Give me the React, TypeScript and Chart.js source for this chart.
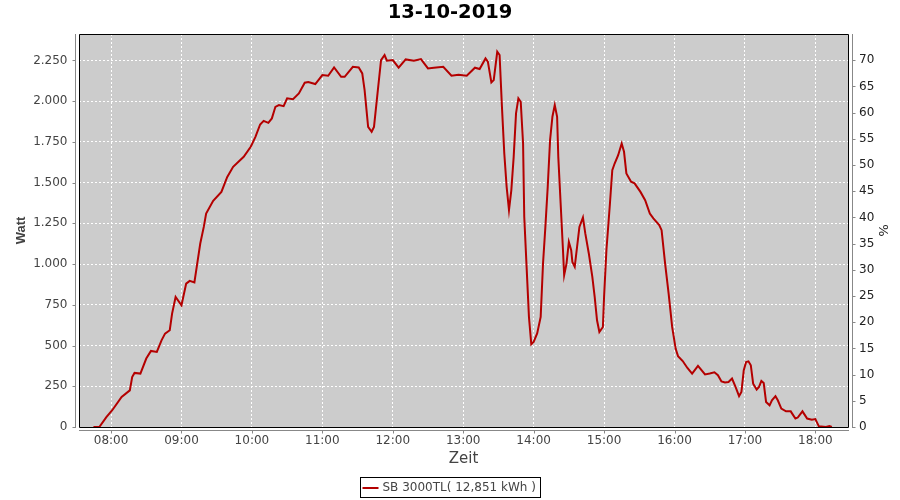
import React, { useEffect, useRef } from 'react';
import { Chart, registerables } from 'chart.js';

Chart.register(...registerables);

const TITLE = '13-10-2019';
const SERIES_LABEL = 'SB 3000TL( 12,851 kWh )';
const X_TITLE = 'Zeit';
const Y_TITLE = 'Watt';
const Y2_TITLE = '%';

// time in minutes after midnight
const timeMinutes = [
  465, 470, 476, 481, 489, 496, 498, 500, 505, 510, 514, 519, 523, 526, 530, 532, 535, 540, 544, 547,
  551, 553, 556, 559, 561, 567, 574, 579, 584, 593, 599, 603, 607, 610, 614, 617, 620, 623, 627, 630,
  635, 640, 645, 648, 654, 660, 665, 670, 676, 679, 686, 691, 694, 696, 699, 702, 704, 707, 710, 713,
  715, 720, 725, 731, 738, 744, 750, 755, 763, 770, 776, 783, 790, 794, 799, 801, 804, 806, 809, 811,
  813, 815, 817, 819, 821, 823, 825, 827, 829, 831, 832, 834, 836, 838, 840, 843, 846, 848, 850, 852,
  854, 856, 858, 860, 861, 863, 865, 866, 868, 870, 872, 873, 875, 877, 879, 882, 884, 887, 890, 892,
  894, 896, 899, 900, 902, 905, 907, 909, 912, 915, 917, 919, 923, 926, 931, 935, 939, 942, 947, 949,
  952, 955, 958, 961, 963, 967, 971, 975, 980, 986, 990, 994, 997, 1000, 1003, 1006, 1009, 1012, 1015, 1017,
  1019, 1021, 1023, 1025, 1027, 1030, 1032, 1034, 1036, 1038, 1041, 1043, 1046, 1048, 1051, 1055, 1059, 1063, 1065, 1069,
  1073, 1077, 1080, 1083, 1089, 1092, 1094,
];

const watts = [
  0, 0, 61, 103, 184, 225, 307, 332, 328, 420, 467, 461, 532, 573, 594, 696, 798, 747, 880, 897,
  887, 983, 1126, 1228, 1310, 1388, 1443, 1535, 1597, 1658, 1720, 1781, 1857, 1879, 1867, 1894, 1965, 1976, 1969, 2017,
  2012, 2047, 2113, 2117, 2105, 2160, 2156, 2207, 2149, 2149, 2211, 2207, 2170, 2068, 1842, 1812, 1842, 2047, 2252, 2283,
  2248, 2252, 2205, 2256, 2248, 2258, 2201, 2205, 2211, 2156, 2162, 2156, 2205, 2197, 2262, 2242, 2115, 2129, 2303, 2283,
  1965, 1679, 1474, 1331, 1454, 1658, 1925, 2017, 1996, 1740, 1290, 983, 676, 508, 522, 574, 676, 1003, 1228, 1474,
  1761, 1904, 1976, 1904, 1658, 1372, 1085, 932, 1003, 1136, 1085, 1013, 983, 1105, 1228, 1286, 1188, 1065, 921, 798,
  655, 583, 614, 798, 1085, 1372, 1576, 1617, 1668, 1740, 1689, 1556, 1505, 1495, 1443, 1392, 1310, 1280, 1239, 1208,
  1003, 819, 614, 480, 435, 405, 362, 328, 375, 323, 328, 336, 318, 280, 273, 276, 297, 246, 189, 215,
  348, 399, 403, 379, 266, 230, 246, 283, 270, 154, 133, 164, 189, 164, 113, 96, 96, 52, 58, 96,
  52, 45, 49, 4, 0, 6, 0,
];

const hourTicks = [480, 540, 600, 660, 720, 780, 840, 900, 960, 1020, 1080];
const wattTicks = [0, 250, 500, 750, 1000, 1250, 1500, 1750, 2000, 2250];
const percentTicks = [0, 5, 10, 15, 20, 25, 30, 35, 40, 45, 50, 55, 60, 65, 70];

const X_MIN = 452.7;
const X_MAX = 1107.8;
const WATT_MAX = 2412;
const PERCENT_MAX = 75;

const pad2 = (n: number) => String(n).padStart(2, '0');
const fmtHour = (v: number) => `${pad2(Math.floor(v / 60))}:${pad2(Math.round(v % 60))}`;
const fmtWatt = (v: number) =>
  v >= 1000 ? `${Math.floor(v / 1000)}.${String(v % 1000).padStart(3, '0')}` : String(v);

const LINE_COLOR = '#b40000';
const AXIS_GRAY = '#888888';

const decorPlugin = {
  id: 'decor',
  beforeDraw(chart: any) {
    const { ctx, chartArea: a } = chart;
    ctx.save();
    ctx.fillStyle = '#cccccc';
    ctx.fillRect(a.left, a.top, a.right - a.left, a.bottom - a.top);
    ctx.restore();
  },
  afterDraw(chart: any) {
    const { ctx, chartArea: a, scales } = chart;
    ctx.save();
    // plot border
    ctx.strokeStyle = '#000000';
    ctx.lineWidth = 1;
    ctx.beginPath();
    ctx.rect(a.left + 0.5, a.top + 0.5, a.right - a.left, a.bottom - a.top);
    ctx.stroke();

    // offset axis lines
    ctx.strokeStyle = AXIS_GRAY;
    ctx.beginPath();
    const lx = a.left - 3.5;
    ctx.moveTo(lx, a.top);
    ctx.lineTo(lx, a.bottom + 1);
    const rx = a.right + 4.5;
    ctx.moveTo(rx, a.top);
    ctx.lineTo(rx, a.bottom + 1);
    const by = a.bottom + 3.5;
    ctx.moveTo(a.left, by);
    ctx.lineTo(a.right + 1, by);
    wattTicks.forEach((v) => {
      const y = Math.round(scales.y.getPixelForValue(v)) + 0.5;
      ctx.moveTo(lx - 3, y);
      ctx.lineTo(lx, y);
    });
    percentTicks.forEach((v) => {
      const y = Math.round(scales.y2.getPixelForValue(v)) + 0.5;
      ctx.moveTo(rx, y);
      ctx.lineTo(rx + 3, y);
    });
    hourTicks.forEach((v) => {
      const x = Math.round(scales.x.getPixelForValue(v)) + 0.5;
      ctx.moveTo(x, by);
      ctx.lineTo(x, by + 3);
    });
    ctx.stroke();

    // legend
    const label = chart.data.datasets[0].label as string;
    ctx.font = '12px "DejaVu Sans"';
    const tw = ctx.measureText(label).width;
    const boxW = 2 + 16 + 4 + tw + 5;
    const boxH = 20;
    const bx = Math.round(450 - boxW / 2) + 0.5;
    const byy = 477.5;
    ctx.strokeStyle = '#000000';
    ctx.lineWidth = 1;
    ctx.strokeRect(bx, byy, Math.round(boxW), boxH);
    ctx.strokeStyle = LINE_COLOR;
    ctx.lineWidth = 2;
    ctx.beginPath();
    ctx.moveTo(bx + 2, byy + 10.5);
    ctx.lineTo(bx + 18, byy + 10.5);
    ctx.stroke();
    ctx.fillStyle = '#444444';
    ctx.textBaseline = 'middle';
    ctx.textAlign = 'left';
    ctx.fillText(label, bx + 22, byy + 10.5);
    ctx.restore();
  },
};

export default function App() {
  const canvasRef = useRef<HTMLCanvasElement | null>(null);

  useEffect(() => {
    if (!canvasRef.current) return;
    const chart = new Chart(canvasRef.current, {
      type: 'line',
      data: {
        datasets: [
          {
            label: SERIES_LABEL,
            data: timeMinutes.map((t, i) => ({ x: t, y: watts[i] })),
            borderColor: LINE_COLOR,
            backgroundColor: LINE_COLOR,
            borderWidth: 2,
            pointRadius: 0,
            tension: 0,
            fill: false,
            yAxisID: 'y',
            xAxisID: 'x',
          },
        ],
      },
      options: {
        responsive: false,
        animation: false,
        devicePixelRatio: 1,
        layout: { padding: { left: 0, right: 0, top: 0, bottom: 31 } },
        plugins: {
          legend: { display: false },
          tooltip: { enabled: false },
          title: {
            display: true,
            text: TITLE,
            color: '#000000',
            font: { family: 'DejaVu Sans', size: 19.5, weight: 'bold' },
            padding: { top: 1, bottom: 9.6 },
          },
        },
        scales: {
          x: {
            type: 'linear',
            position: 'bottom',
            min: X_MIN,
            max: X_MAX,
            afterBuildTicks: (s: any) => {
              s.ticks = hourTicks.map((v) => ({ value: v }));
            },
            afterFit: (s: any) => {
              s.height = 42;
            },
            ticks: {
              callback: (v: any) => fmtHour(Number(v)),
              color: '#444444',
              font: { family: 'DejaVu Sans', size: 12 },
              padding: 7,
              maxRotation: 0,
              autoSkip: false,
            },
            grid: { color: '#ffffff', lineWidth: 1, drawTicks: false },
            border: { display: false, dash: [2, 2] },
            title: {
              display: true,
              text: X_TITLE,
              color: '#444444',
              font: { family: 'DejaVu Sans', size: 15 },
              padding: { top: 0, bottom: 1 },
            },
          },
          y: {
            type: 'linear',
            position: 'left',
            min: 0,
            max: WATT_MAX,
            afterBuildTicks: (s: any) => {
              s.ticks = wattTicks.map((v) => ({ value: v }));
            },
            afterFit: (s: any) => {
              s.width = 79;
            },
            ticks: {
              callback: (v: any) => fmtWatt(Number(v)),
              color: '#444444',
              font: { family: 'DejaVu Sans', size: 12 },
              padding: 11.5,
              autoSkip: false,
            },
            grid: { color: '#ffffff', lineWidth: 1, drawTicks: false },
            border: { display: false, dash: [2, 2] },
            title: {
              display: true,
              text: Y_TITLE,
              color: '#444444',
              font: { family: 'Liberation Sans', size: 13, weight: 'bold' },
              padding: { top: 14, bottom: 0 },
            },
          },
          y2: {
            type: 'linear',
            position: 'right',
            min: 0,
            max: PERCENT_MAX,
            afterBuildTicks: (s: any) => {
              s.ticks = percentTicks.map((v) => ({ value: v }));
            },
            afterFit: (s: any) => {
              s.width = 52;
            },
            ticks: {
              color: '#222222',
              font: { family: 'DejaVu Sans', size: 12 },
              padding: 11,
              autoSkip: false,
            },
            grid: { display: false, drawTicks: false },
            border: { display: false },
            title: {
              display: true,
              text: Y2_TITLE,
              color: '#222222',
              font: { family: 'DejaVu Sans', size: 13 },
              padding: { top: 10, bottom: 0 },
            },
          },
        },
      },
      plugins: [decorPlugin],
    } as any);
    return () => chart.destroy();
  }, []);

  return (
    <div style={{ position: 'absolute', left: 0, top: 0, width: 900, height: 500, background: '#ffffff' }}>
      <canvas ref={canvasRef} width={900} height={500} style={{ display: 'block' }} />
    </div>
  );
}
